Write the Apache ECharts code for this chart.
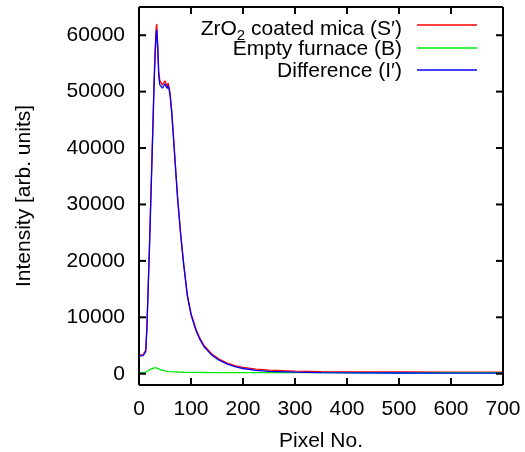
<!DOCTYPE html>
<html>
<head>
<meta charset="utf-8">
<script src="https://cdn.jsdelivr.net/npm/echarts@6/dist/echarts.min.js"></script>
<style>
  html, body { margin: 0; padding: 0; background: #fff; }
  #chart { width: 525px; height: 452px; background: #fff; }
</style>
</head>
<body>
<div id="chart"></div>
<script>
// Detector pixel positions at which the spectra are sampled
const pixels = [0, 4, 8, 11, 13, 15, 17, 20, 23, 26, 29, 31, 33, 34, 36, 38, 40, 42, 45, 48,
  50, 52, 54, 56, 58, 60, 63, 66, 70, 74, 80, 86, 93, 100, 110, 116, 125, 140, 154, 170,
  186, 200, 225, 250, 300, 350, 400, 500, 600, 700];

// ZrO2 coated mica (S')
const sampleS = [3400, 3350, 3400, 3600, 4200, 8000, 13600, 22500, 32200, 42000, 52000, 57500, 61300, 62000, 58500, 53500, 52000, 51700, 51200, 51300,
  51900, 51400, 51000, 51500, 50700, 49500, 46500, 42500, 37000, 31600, 25000, 19500, 14000, 10700, 7800, 6500, 5000, 3500, 2600, 1900,
  1400, 1120, 800, 620, 450, 380, 340, 300, 280, 270];

// Empty furnace (B)
const furnaceB = [180, 180, 190, 230, 300, 400, 520, 680, 830, 950, 1030, 1050, 1030, 1000, 930, 850, 760, 680, 600, 540,
  500, 470, 440, 420, 400, 380, 360, 340, 320, 300, 280, 260, 250, 240, 230, 225, 220, 210, 205, 200,
  200, 195, 190, 190, 185, 180, 180, 175, 170, 170];

// Difference (I')
const differenceI = [3220, 3170, 3210, 3370, 3900, 7600, 13080, 21820, 31370, 41050, 50970, 56450, 60270, 61000, 57570, 52650, 51240, 51020, 50600, 50760,
  51400, 50930, 50560, 51080, 50300, 49120, 46140, 42160, 36680, 31300, 24720, 19240, 13750, 10460, 7570, 6275, 4780, 3290, 2395, 1700,
  1200, 925, 610, 430, 265, 200, 160, 125, 110, 100];

// Axis ranges and tick positions
const xRange = [0, 700];
const yRange = [-2000, 65000];
const xTicks = [0, 100, 200, 300, 400, 500, 600, 700];
const yTicks = [0, 10000, 20000, 30000, 40000, 50000, 60000];

// Key entries, top to bottom
const keyLabels = ['{a|ZrO}{sub|2}{a| coated mica (S′)}', 'Empty furnace (B)', 'Difference (I′)'];

const colors = { s: '#ff0000', b: '#00e800', i: '#0000ff' };
const keyColors = [colors.s, colors.b, colors.i];
const FONT = '"Liberation Sans", Arial, Helvetica, sans-serif';
const FS = 21;
const TICK = 7;

const pairs = (ys) => pixels.map((x, k) => [x, ys[k]]);
const plain = (v) => String(v);

const chart = echarts.init(document.getElementById('chart'));

// Closed frame with inward ticks on all four sides, plus the key in the top right corner
function renderFrame(params, api) {
  const ink = { stroke: '#000', lineWidth: 2 };
  const seg = (a, b, style) => ({ type: 'line', shape: { x1: a[0], y1: a[1], x2: b[0], y2: b[1] }, style: style || ink });
  const bl = api.coord([xRange[0], yRange[0]]);
  const tr = api.coord([xRange[1], yRange[1]]);
  const children = [
    seg([bl[0], bl[1]], [tr[0], bl[1]]),
    seg([bl[0], tr[1]], [tr[0], tr[1]]),
    seg([bl[0], bl[1]], [bl[0], tr[1]]),
    seg([tr[0], bl[1]], [tr[0], tr[1]])
  ];
  xTicks.forEach(v => {
    const px = api.coord([v, yRange[0]])[0];
    children.push(seg([px, bl[1]], [px, bl[1] - TICK]));
    children.push(seg([px, tr[1]], [px, tr[1] + TICK]));
  });
  yTicks.forEach(v => {
    const py = api.coord([xRange[0], v])[1];
    children.push(seg([bl[0], py], [bl[0] + TICK, py]));
    children.push(seg([tr[0], py], [tr[0] - TICK, py]));
  });

  // key: right-aligned labels followed by short line samples
  const textRight = tr[0] - 101;
  const rowTop = [tr[1] + 12, tr[1] + 32, tr[1] + 54];
  const rowMid = [tr[1] + 18, tr[1] + 41, tr[1] + 63];
  keyLabels.forEach((label, k) => {
    children.push({
      type: 'text',
      style: {
        x: textRight, y: rowTop[k], text: label, align: 'right', verticalAlign: 'top',
        fontSize: FS, fontFamily: FONT, fill: '#000',
        rich: {
          a: { fontSize: FS, fontFamily: FONT, fill: '#000', verticalAlign: 'top', lineHeight: 23 },
          sub: { fontSize: 15, fontFamily: FONT, fill: '#000', verticalAlign: 'top', lineHeight: 23, padding: [9, 0, 0, 0] }
        }
      }
    });
    children.push(seg([tr[0] - 86, rowMid[k]], [tr[0] - 26, rowMid[k]], { stroke: keyColors[k], lineWidth: 1.3 }));
  });
  return { type: 'group', children };
}

chart.setOption({
  animation: false,
  grid: { left: 139, right: 22, top: 7, bottom: 67, outerBoundsMode: 'none' },
  xAxis: {
    type: 'value', min: xRange[0], max: xRange[1], interval: 100,
    axisLine: { show: false }, axisTick: { show: false }, splitLine: { show: false },
    axisLabel: { color: '#000', fontSize: FS, fontFamily: FONT, margin: 14, formatter: plain },
    name: 'Pixel No.', nameLocation: 'middle', nameGap: 46,
    nameTextStyle: { color: '#000', fontSize: FS, fontFamily: FONT }
  },
  yAxis: {
    type: 'value', min: yRange[0], max: yRange[1], splitNumber: 7,
    axisLine: { show: false }, axisTick: { show: false }, splitLine: { show: false },
    axisLabel: { color: '#000', fontSize: FS, fontFamily: FONT, margin: 14, formatter: plain,
      showMinLabel: false, showMaxLabel: false },
    name: 'Intensity [arb. units]', nameLocation: 'middle', nameGap: 104,
    nameTextStyle: { color: '#000', fontSize: FS, fontFamily: FONT }
  },
  series: [
    { name: 'ZrO2 coated mica (S′)', type: 'line', data: pairs(sampleS), showSymbol: false,
      lineStyle: { color: colors.s, width: 1.3 }, itemStyle: { color: colors.s } },
    { name: 'Empty furnace (B)', type: 'line', data: pairs(furnaceB), showSymbol: false,
      lineStyle: { color: colors.b, width: 1.3 }, itemStyle: { color: colors.b } },
    { name: 'Difference (I′)', type: 'line', data: pairs(differenceI), showSymbol: false,
      lineStyle: { color: colors.i, width: 1.3 }, itemStyle: { color: colors.i } },
    { name: 'frame', type: 'custom', data: [[xRange[0], yRange[0]]], renderItem: renderFrame,
      clip: false, silent: true, z: 5 }
  ]
});
</script>
</body>
</html>
